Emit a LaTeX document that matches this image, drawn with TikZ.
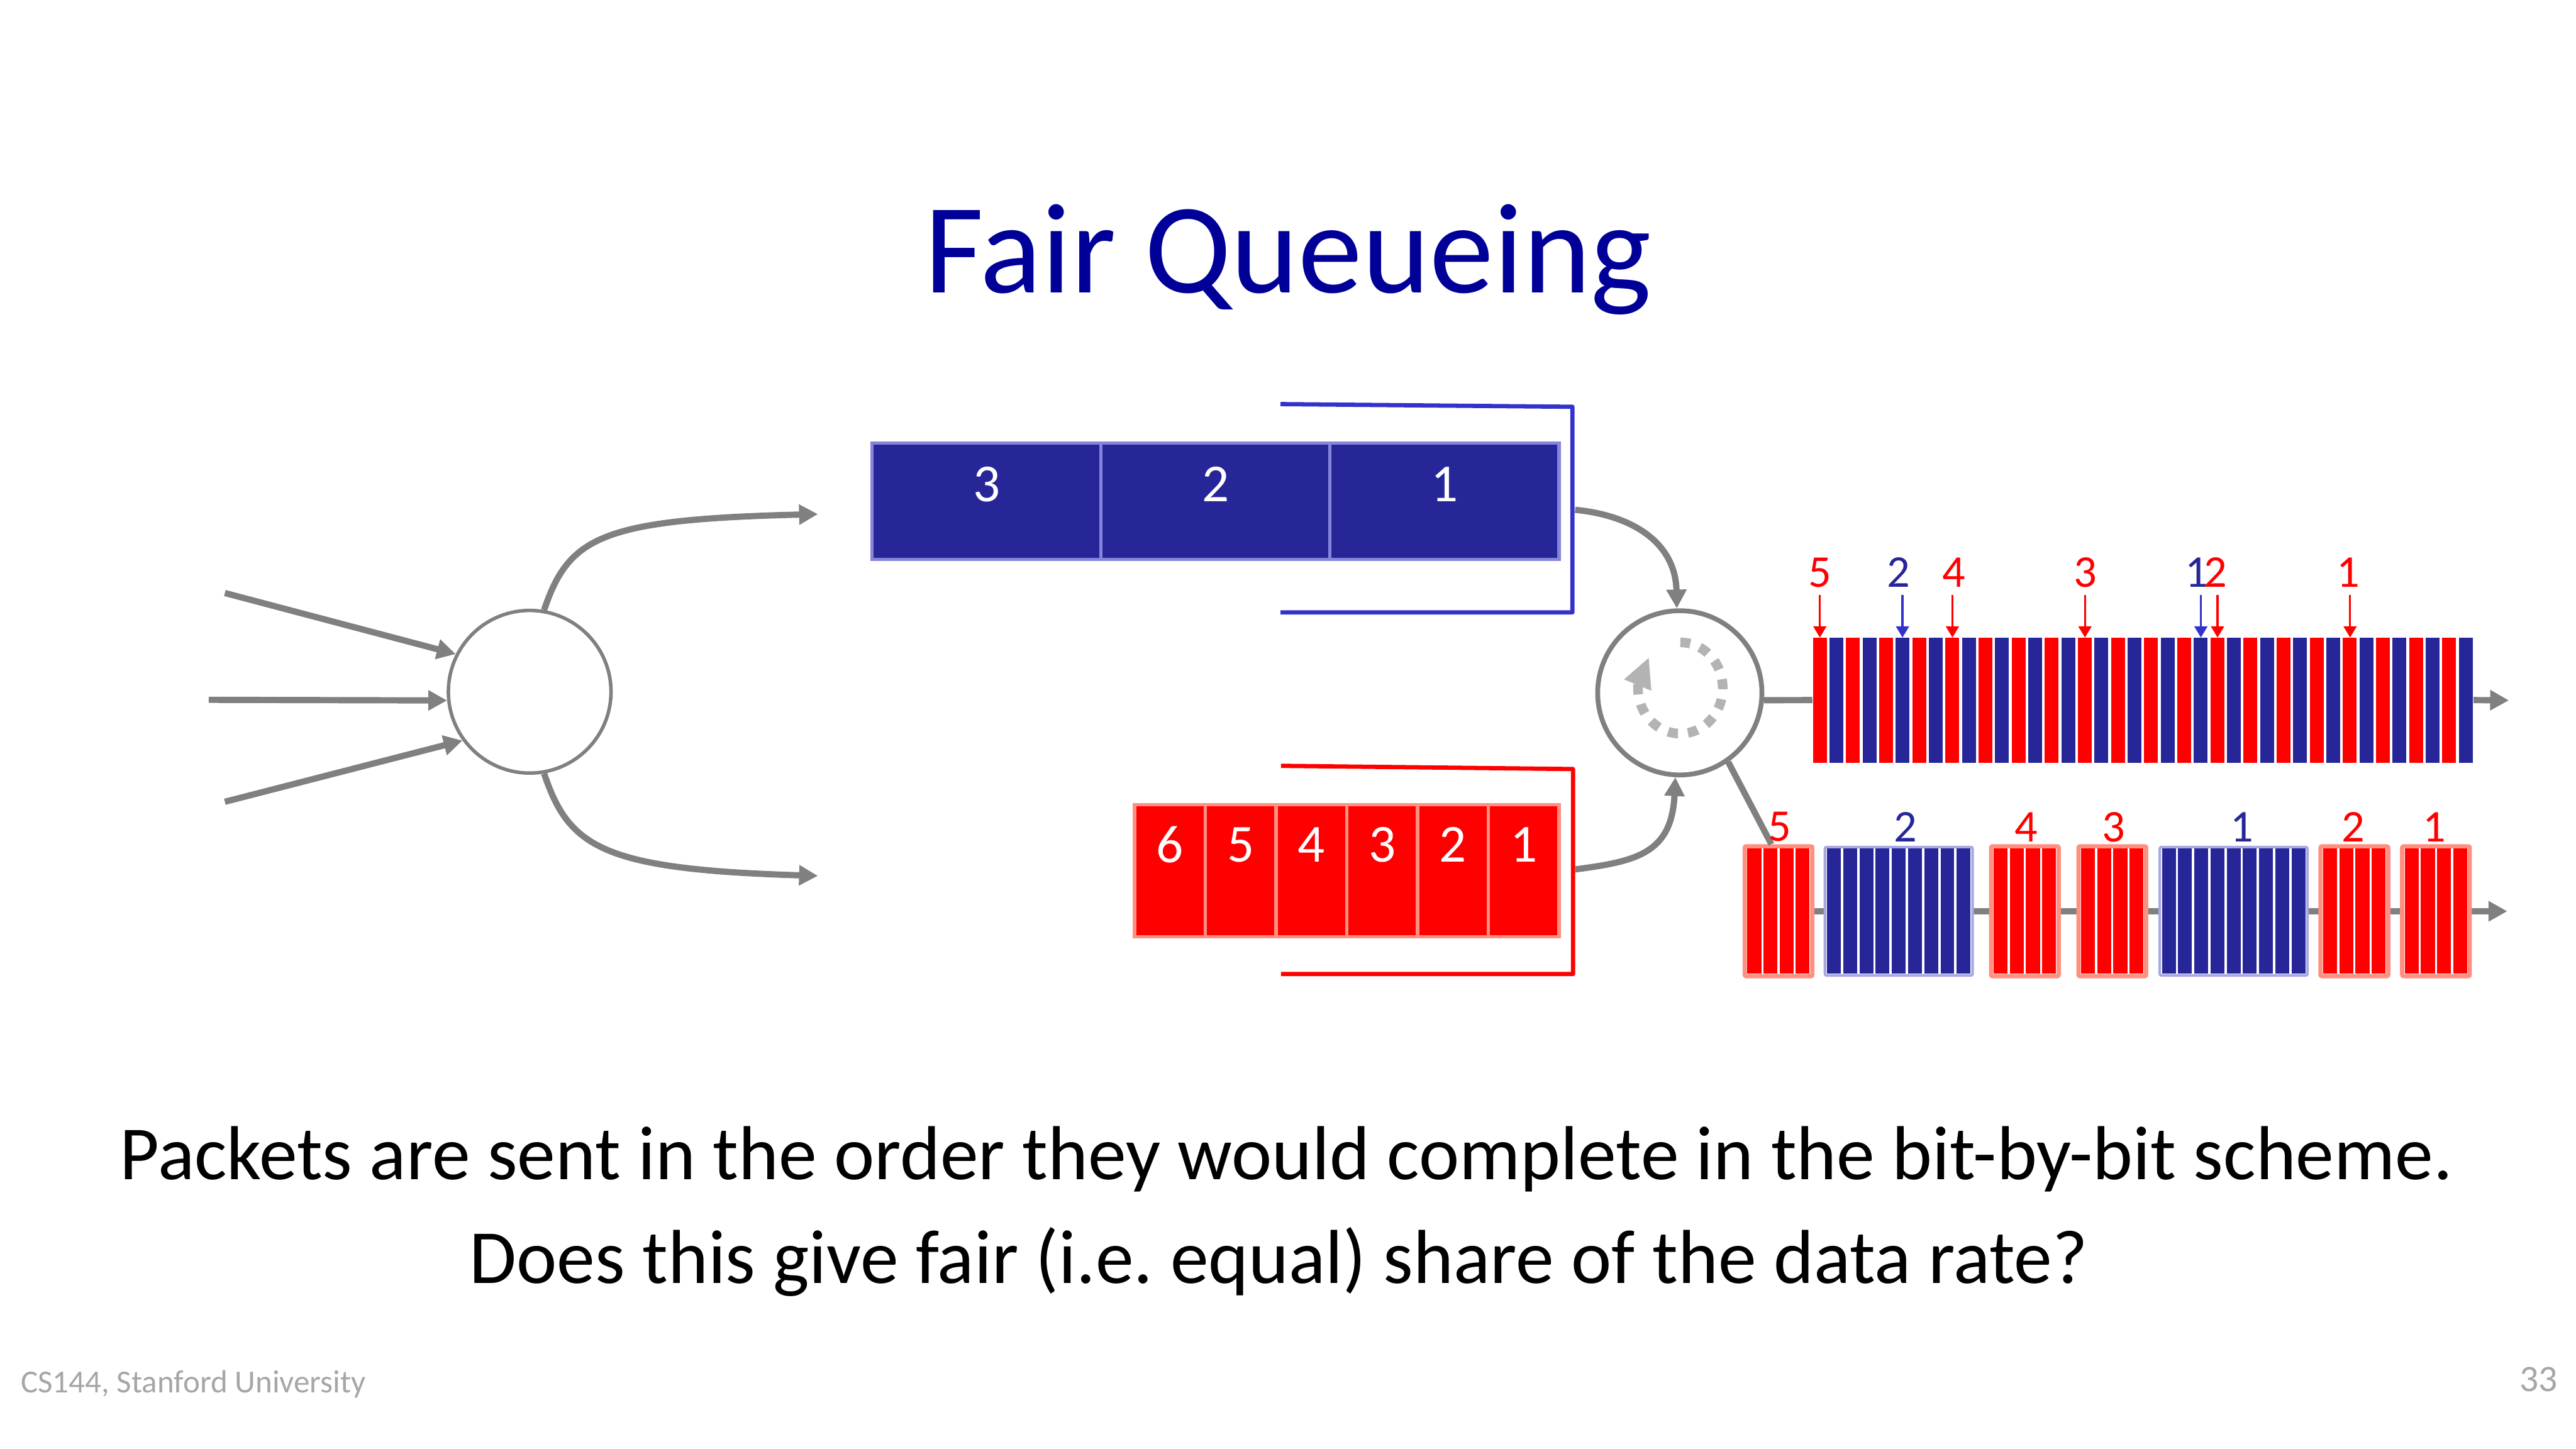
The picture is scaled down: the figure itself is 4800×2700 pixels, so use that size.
\documentclass[tikz,border=0pt]{standalone}
\usepackage{fontspec}
\setmainfont{Carlito}
\usetikzlibrary{arrows.meta,backgrounds,calc}
\newcommand\pxu{0.0070556cm}
\definecolor{qblue}{RGB}{38,38,153}
\definecolor{qblueb}{RGB}{133,133,219}
\definecolor{brblue}{RGB}{51,51,204}
\definecolor{salmon}{RGB}{255,143,128}
\definecolor{pblueb}{RGB}{168,168,224}
\definecolor{cgray}{RGB}{128,128,128}
\definecolor{dgray}{RGB}{179,179,179}
\definecolor{fgray}{RGB}{166,166,166}
\definecolor{titleblue}{RGB}{0,0,153}
\begin{document}
\frenchspacing
\begin{tikzpicture}[x=0.0070556cm, y=-0.0070556cm,
  conn/.style={draw=cgray, line width=0.082cm},
  tipg/.style={-{Triangle[length=0.247cm,width=0.254cm]}},
  qcellb/.style={rectangle, fill=qblue, draw=qblueb, line width=0.042cm,
    minimum width={426.7*\pxu}, minimum height={216*\pxu}, inner sep=0},
  qcellr/.style={rectangle, fill=red, draw=salmon, line width=0.042cm,
    minimum width={131.83*\pxu}, minimum height={246*\pxu}, inner sep=0},
  qlab/.style={text=white, font=\fontsize{20}{24}\selectfont, inner sep=0},
  lab/.style={font=\fontsize{17}{20}\selectfont, inner sep=0},
  bracketb/.style={draw=brblue, line width=0.056cm, line join=round},
  bracketr/.style={draw=red, line width=0.056cm, line join=round},
  rpkt/.style={rectangle, fill=white, draw=salmon, line width=0.056cm, rounded corners=0.02cm,
    minimum width={126*\pxu}, minimum height={242*\pxu}, inner sep=0},
  bpkt/.style={rectangle, fill=white, draw=pblueb, line width=0.035cm, rounded corners=0.02cm,
    minimum width={275*\pxu}, minimum height={239*\pxu}, inner sep=0},
  sarr/.style={line width=0.028cm, -{Triangle[length=0.148cm,width=0.169cm]}},
  dashdots/.style={draw=dgray, line width=0.127cm, dash pattern=on 0.132cm off 0.132cm},
  bodytext/.style={anchor=base, font=\fontsize{28.6}{34}\selectfont, inner sep=0}
]
\begin{scope}[on background layer]
  \fill[white] (0,0) rectangle (4800,2700);
\end{scope}
\useasboundingbox (0,0) rectangle (4800,2700);

% title
\node[anchor=base, text=titleblue, font=\fontsize{48}{58}\selectfont, inner sep=0] (title) at (2400,545) {Fair Queueing};

% splitter
\node[circle, draw=cgray, line width=1.3pt, minimum size={303*\pxu}, inner sep=0] (split) at (987,1289) {};
\coordinate (in1) at (419,1105);
\coordinate (in2) at (389,1304);
\coordinate (in3) at (419,1494);
\draw[conn, tipg] (in1) -- (split.153);
\draw[conn, tipg] (in2) -- (split.186);
\draw[conn, tipg] (in3) -- (split.216);
\coordinate (splitA) at (1524,958);
\coordinate (splitB) at (1524,1632);
\draw[conn, tipg] (split.80) .. controls (1060,1000) and (1120,968) .. (splitA);
\draw[conn, tipg] (split.-80) .. controls (1060,1578) and (1120,1620) .. (splitB);

% blue queue
\node[qcellb] (bq3) at (1838.3,934) {};
\node[qcellb] (bq2) at (2265,934) {};
\node[qcellb] (bq1) at (2691.7,934) {};
\node[qlab] (bq3l) at (1838.3,902) {3};
\node[qlab] (bq2l) at (2265,902) {2};
\node[qlab] (bq1l) at (2691.7,902) {1};
\draw[bracketb] (2386,753) -- (2930,758) -- (2930,1141) -- (2386,1141);

% red queue
\foreach \nm/\cx/\t in {rq6/2179.9/6, rq5/2311.8/5, rq4/2443.6/4, rq3/2575.4/3, rq2/2707.3/2, rq1/2839.1/1}{
  \node[qcellr] (\nm) at (\cx,1622) {};
  \node[qlab] (\nm l) at (\cx,1574) {\t};
}
\draw[bracketr] (2387,1427) -- (2931,1433) -- (2931,1815) -- (2387,1815);

% scheduler
\node[circle, draw=cgray, line width=1.8pt, minimum size={306*\pxu}, inner sep=0] (sched) at (3130,1291) {};
\draw[dashdots] (3131,1197) arc[start angle=-90, end angle=185, x radius=79, y radius=85];
\fill[dgray] (3026,1266) -- (3077,1287) -- (3072,1226) -- cycle;
\coordinate (bqout) at (2935,950);
\coordinate (rqout) at (2935,1620);
\draw[conn, tipg] (bqout) .. controls (3040,960) and (3122,1010) .. (sched.92);
\draw[conn, tipg] (rqout) .. controls (3050,1605) and (3115,1590) .. (sched.-93);

% bit-by-bit bar
\node[minimum width={1230*\pxu}, minimum height={233*\pxu}, inner sep=0] (bar) at (3993,1304.5) {};
\foreach \i in {0,...,39}{
  \pgfmathtruncatemacro\stripepar{mod(\i,2)}
  \ifnum\stripepar=0 \def\stripecol{red}\else\def\stripecol{qblue}\fi
  \fill[\stripecol] ({3378+30.86*\i},1188) rectangle ++(26,233);
}
\coordinate (barout) at (4675,1305);
\draw[conn] (sched.-5) -- (bar.west);
\draw[conn, tipg] (bar.east) -- (barout);
% finish markers
\node[lab, text=red] (t5) at (3391,1067) {5};
\node[lab, text=qblue] (tb2) at (3538,1067) {2};
\node[lab, text=red] (t4) at (3641,1067) {4};
\node[lab, text=red] (t3) at (3886,1067) {3};
\node[lab, text=qblue] (tb1) at (4093,1067) {1};
\node[lab, text=red] (t2) at (4128,1067) {2};
\node[lab, text=red] (t1) at (4376,1067) {1};
\foreach \xx/\cc in {3391/red, 3545/brblue, 3638/red, 3885/red, 4101/brblue, 4132/red, 4379/red}{
  \draw[sarr, draw=\cc, fill=\cc] (\xx,1109) -- (\xx,1188);
}

% packet-by-packet output
\foreach \nm/\cx in {pr5/3314, pr4/3773, pr3/3936, pr2/4387, pr1/4539}{
  \node[rpkt] (\nm) at (\cx,1698) {};
  \foreach \k in {0,...,3} \fill[red] ({\cx-58+30*\k},1581) rectangle ++(26,233);
}
\foreach \nm/\cx in {pb2/3538, pb1/4162}{
  \node[bpkt] (\nm) at (\cx,1698) {};
  \foreach \k in {0,...,8} \fill[qblue] ({\cx-133.6+30.2*\k},1581) rectangle ++(25.7,233);
}
\coordinate (outB) at (4672,1698);
\begin{scope}[on background layer]
  \draw[conn, tipg] (pr5.center) -- (outB);
\end{scope}
\draw[conn] (sched.-55) -- ($(pr5.north west)!0.4!(pr5.north east)$);
\node[lab, text=red] (b5) at (3316,1541) {5};
\node[lab, text=qblue] (bb2) at (3550,1541) {2};
\node[lab, text=red] (b4) at (3775,1541) {4};
\node[lab, text=red] (b3) at (3938,1541) {3};
\node[lab, text=qblue] (bb1) at (4177,1541) {1};
\node[lab, text=red] (b2) at (4385,1541) {2};
\node[lab, text=red] (b1) at (4536,1541) {1};

% text
\node[bodytext] (line1) at (2397,2198)
  {Packets are sent in the order they would complete in the bit-by-bit scheme.};
\node[bodytext] (line2) at (2383,2391)
  {Does this give fair (i.e. equal) share of the data rate?};
\node[anchor=base west, text=fgray, font=\fontsize{12}{14}\selectfont, inner sep=0] (foot) at (38,2595)
  {CS144, Stanford University};
\node[anchor=base east, text=fgray, font=\fontsize{14}{16}\selectfont, inner sep=0] (pnum) at (4767,2593) {33};
\end{tikzpicture}
\end{document}
